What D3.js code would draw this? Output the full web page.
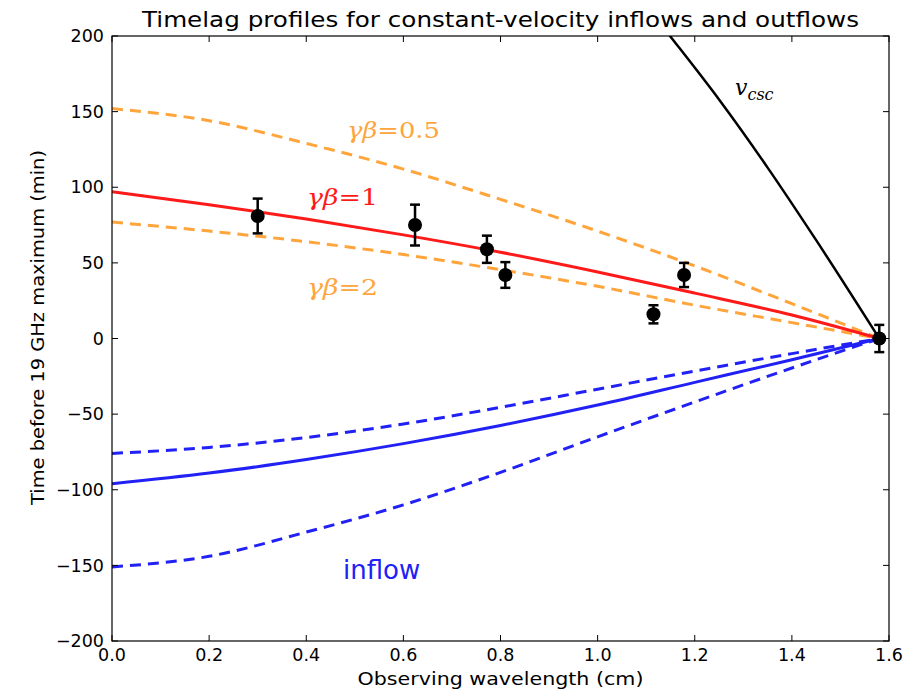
<!DOCTYPE html>
<html>
<head>
<meta charset="utf-8">
<script src="https://cdn.jsdelivr.net/npm/d3@7"></script>
<style>
  body { margin: 0; background: #fff; }
  text { font-family: 'DejaVu Sans', sans-serif; }
  .math { font-family: 'DejaVu Serif', serif; }
</style>
</head>
<body>
<div id="chart"></div>
<script>
// sample wavelengths (cm) for the model curves
const lambdas = [0, 0.2, 0.4, 0.6, 0.8, 1.0, 1.2, 1.4, 1.58];

// outflow profiles
const outflow05 = [152, 144, 129, 112, 92, 71, 48, 23, 0];
const outflow1 = [97, 88.5, 79, 68.5, 57, 44, 30, 15.5, 0];
const outflow2 = [77, 71, 64, 55.5, 45.5, 34.5, 22, 10.5, 0];

// inflow profiles
const inflowUpper = [-76, -72, -65.5, -56.5, -45.5, -33.5, -21.5, -10, 0];
const inflowMid = [-96, -89, -80, -69.5, -57.5, -44, -29, -14, 0];
const inflowLower = [-151, -144, -128, -110, -88.5, -65, -42, -19.5, 0];

// v_csc curve
const vcscX = [1.10, 1.149, 1.25, 1.35, 1.45, 1.58];
const vcscY = [220, 200, 158, 113, 65, 0];

// measured lags
const obsX = [0.30, 0.624, 0.772, 0.81, 1.115, 1.178, 1.58];
const obsY = [81, 75, 59, 42, 16, 42, 0];
const obsErr = [11.5, 13.5, 9, 8.5, 6, 8, 9];

const xTicks = [0, 0.2, 0.4, 0.6, 0.8, 1.0, 1.2, 1.4, 1.6];
const yTicks = [-200, -150, -100, -50, 0, 50, 100, 150, 200];

const width = 914;
const height = 693;
const margin = {left: 112, right: 25, top: 36, bottom: 52};

const orange = '#ffa53c';
const red = '#ff1a1a';
const blue = '#2121f5';

let svg = d3.select('#chart').append('svg')
    .attr('width', width)
    .attr('height', height);

let x = d3.scaleLinear().domain([0, 1.6]).range([margin.left, width - margin.right]);
let y = d3.scaleLinear().domain([-200, 200]).range([height - margin.bottom, margin.top]);

svg.append('clipPath').attr('id', 'plot-clip')
    .append('rect')
    .attr('x', x(0)).attr('y', y(200))
    .attr('width', x(1.6) - x(0)).attr('height', y(-200) - y(200));

let plot = svg.append('g').attr('clip-path', 'url(#plot-clip)');

let line = d3.line()
    .x(d => x(d[0]))
    .y(d => y(d[1]))
    .curve(d3.curveMonotoneX);

function curve(xs, ys, color, dashed, w) {
  plot.append('path')
      .datum(xs.map((v, i) => [v, ys[i]]))
      .attr('fill', 'none')
      .attr('stroke', color)
      .attr('stroke-width', w)
      .attr('stroke-dasharray', dashed ? '11,7' : null)
      .attr('d', line);
}

curve(lambdas, outflow05, orange, true, 3);
curve(lambdas, outflow2, orange, true, 3);
curve(lambdas, outflow1, red, false, 3);
curve(lambdas, inflowUpper, blue, true, 3);
curve(lambdas, inflowLower, blue, true, 3);
curve(lambdas, inflowMid, blue, false, 3);
curve(vcscX, vcscY, '#000', false, 2.5);

// data points with error bars
let pts = obsX.map((v, i) => ({x: v, y: obsY[i], e: obsErr[i]}));
let pg = svg.append('g').selectAll('g').data(pts).enter().append('g');
pg.append('line')
    .attr('x1', d => x(d.x)).attr('x2', d => x(d.x))
    .attr('y1', d => y(d.y - d.e)).attr('y2', d => y(d.y + d.e))
    .attr('stroke', '#000').attr('stroke-width', 2.5);
[-1, 1].forEach(s => {
  pg.append('line')
      .attr('x1', d => x(d.x) - 5).attr('x2', d => x(d.x) + 5)
      .attr('y1', d => y(d.y + s * d.e)).attr('y2', d => y(d.y + s * d.e))
      .attr('stroke', '#000').attr('stroke-width', 2.5);
});
pg.append('circle')
    .attr('cx', d => x(d.x)).attr('cy', d => y(d.y))
    .attr('r', 7).attr('fill', '#000');

// frame + inward ticks on all sides
let x0 = x(0), x1 = x(1.6), y0 = y(-200), y1 = y(200);
svg.append('rect')
    .attr('x', x0).attr('y', y1)
    .attr('width', x1 - x0).attr('height', y0 - y1)
    .attr('fill', 'none').attr('stroke', '#000').attr('stroke-width', 1.2);

let tl = 6;
xTicks.forEach(t => {
  svg.append('line').attr('x1', x(t)).attr('x2', x(t)).attr('y1', y0).attr('y2', y0 - tl).attr('stroke', '#000');
  svg.append('line').attr('x1', x(t)).attr('x2', x(t)).attr('y1', y1).attr('y2', y1 + tl).attr('stroke', '#000');
  svg.append('text')
      .attr('x', x(t)).attr('y', y0 + 20)
      .attr('text-anchor', 'middle')
      .attr('font-size', 17.5)
      .text(t.toFixed(1));
});
yTicks.forEach(t => {
  svg.append('line').attr('x1', x0).attr('x2', x0 + tl).attr('y1', y(t)).attr('y2', y(t)).attr('stroke', '#000');
  svg.append('line').attr('x1', x1).attr('x2', x1 - tl).attr('y1', y(t)).attr('y2', y(t)).attr('stroke', '#000');
  svg.append('text')
      .attr('x', x0 - 8).attr('y', y(t))
      .attr('dy', '0.35em')
      .attr('text-anchor', 'end')
      .attr('font-size', 17.5)
      .text(t < 0 ? '\u2212' + Math.abs(t) : t);
});

// titles
svg.append('text')
    .attr('x', (x0 + x1) / 2).attr('y', 27)
    .attr('text-anchor', 'middle')
    .attr('font-size', 22)
    .attr('textLength', 717)
    .attr('lengthAdjust', 'spacingAndGlyphs')
    .text('Timelag profiles for constant-velocity inflows and outflows');

svg.append('text')
    .attr('x', (x0 + x1) / 2).attr('y', 685)
    .attr('text-anchor', 'middle')
    .attr('font-size', 18)
    .attr('textLength', 286)
    .attr('lengthAdjust', 'spacingAndGlyphs')
    .text('Observing wavelength (cm)');

svg.append('text')
    .attr('transform', 'translate(44,' + ((150 + 505) / 2) + ') rotate(-90)')
    .attr('text-anchor', 'middle')
    .attr('font-size', 18)
    .attr('textLength', 355)
    .attr('lengthAdjust', 'spacingAndGlyphs')
    .text('Time before 19 GHz maximum (min)');

// curve labels
function gbLabel(px, py, val, color, len) {
  let t = svg.append('text').attr('class', 'math')
      .attr('x', px).attr('y', py)
      .attr('font-size', 23)
      .attr('textLength', len)
      .attr('lengthAdjust', 'spacingAndGlyphs')
      .attr('fill', color);
  t.append('tspan').attr('font-style', 'italic').text('\u03b3\u03b2');
  t.append('tspan').text('=' + val);
}
gbLabel(347, 138, '0.5', orange, 93);
gbLabel(307, 205, '1', red, 71);
gbLabel(307, 295, '2', orange, 71);

let v = svg.append('text').attr('class', 'math')
    .attr('x', 735).attr('y', 95)
    .attr('font-size', 22)
    .attr('font-style', 'italic');
v.append('tspan').text('v');
v.append('tspan').attr('font-size', 16).attr('dy', 5).text('csc');

svg.append('text')
    .attr('x', 343).attr('y', 579)
    .attr('font-size', 26)
    .attr('fill', blue)
    .text('inflow');
</script>
</body>
</html>
